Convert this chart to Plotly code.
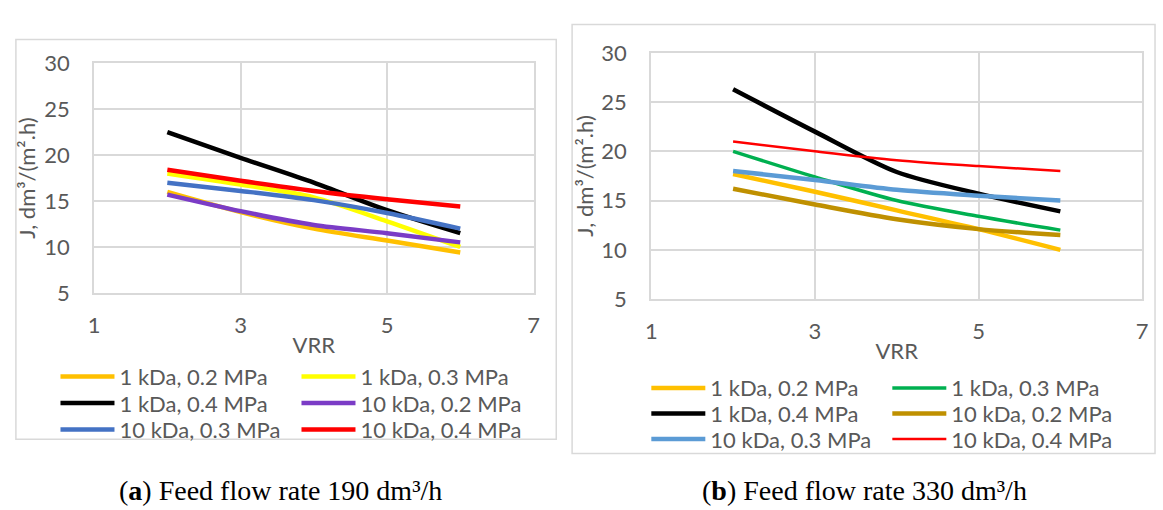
import plotly.graph_objects as go

W, H = 1163, 510

vrr = [2, 3, 4, 5, 6]

# Panel (a): feed flow rate 190 dm3/h
a_names = ["1 kDa, 0.2 MPa", "1 kDa, 0.3 MPa", "1 kDa, 0.4 MPa",
           "10 kDa, 0.2 MPa", "10 kDa, 0.3 MPa", "10 kDa, 0.4 MPa"]
a_1kda_02 = [16.0, 13.8, 12.0, 10.7, 9.4]
a_1kda_03 = [18.0, 16.8, 15.4, 12.8, 10.0]
a_1kda_04 = [22.5, 19.7, 17.0, 14.0, 11.5]
a_10kda_02 = [15.7, 13.9, 12.4, 11.5, 10.5]
a_10kda_03 = [17.0, 16.1, 15.1, 13.7, 12.0]
a_10kda_04 = [18.4, 17.2, 16.1, 15.2, 14.4]

# Panel (b): feed flow rate 330 dm3/h
b_names = a_names
b_1kda_02 = [17.7, 15.9, 14.0, 12.1, 10.0]
b_1kda_03 = [20.0, 17.4, 15.0, 13.4, 12.0]
b_1kda_04 = [26.3, 22.0, 17.9, 15.7, 13.9]
b_10kda_02 = [16.2, 14.6, 13.1, 12.1, 11.5]
b_10kda_03 = [18.0, 17.1, 16.1, 15.5, 15.0]
b_10kda_04 = [21.0, 20.0, 19.1, 18.5, 18.0]

x_ticks = [1, 3, 5, 7]
y_ticks = [5, 10, 15, 20, 25, 30]
x_title = "VRR"
y_title = "J, dm³/(m².h)"
caption_a = "(<b>a</b>) Feed flow rate 190 dm³/h"
caption_b = "(<b>b</b>) Feed flow rate 330 dm³/h"

a_series = [a_1kda_02, a_1kda_03, a_1kda_04, a_10kda_02, a_10kda_03, a_10kda_04]
b_series = [b_1kda_02, b_1kda_03, b_1kda_04, b_10kda_02, b_10kda_03, b_10kda_04]
a_colors = ["#FFC000", "#FFFF00", "#000000", "#7B3CC6", "#4472C4", "#FF0000"]
b_colors = ["#FFC000", "#00B050", "#000000", "#BF9000", "#5B9BD5", "#FF0000"]
a_widths = [4.5, 4.5, 4.5, 4.5, 4.5, 4.5]
b_widths = [4.5, 3.5, 4.5, 4.5, 4.5, 2.5]

FONT = "Lato"
GRAY = "#595959"
GRID = "#D9D9D9"

fig = go.Figure()

# legends: one per row, 2 items each
a_legends = ["legend", "legend", "legend2", "legend2", "legend3", "legend3"]
b_legends = ["legend4", "legend4", "legend5", "legend5", "legend6", "legend6"]

for name, ys, c, w, lg in zip(a_names, a_series, a_colors, a_widths, a_legends):
    fig.add_trace(go.Scatter(x=vrr, y=ys, name=name, mode="lines",
                             line=dict(color=c, width=w, shape="spline", smoothing=0.8),
                             xaxis="x", yaxis="y", legend=lg))
for name, ys, c, w, lg in zip(b_names, b_series, b_colors, b_widths, b_legends):
    fig.add_trace(go.Scatter(x=vrr, y=ys, name=name, mode="lines",
                             line=dict(color=c, width=w, shape="spline", smoothing=0.8),
                             xaxis="x2", yaxis="y2", legend=lg))


def xaxis(domain, anchor):
    return dict(domain=domain, anchor=anchor, range=[1, 7], tickvals=x_ticks,
                showgrid=True, gridcolor=GRID, gridwidth=1.5,
                showline=True, linecolor=GRID, linewidth=2, mirror=True,
                zeroline=False, ticks="", ticklabelstandoff=12,
                tickfont=dict(family=FONT, size=22, color=GRAY),
                title=dict(text=x_title, standoff=0, font=dict(family=FONT, size=22, color=GRAY)))


def yaxis(domain, anchor):
    return dict(domain=domain, anchor=anchor, range=[5, 30], tickvals=y_ticks,
                showgrid=True, gridcolor=GRID, gridwidth=1.5,
                showline=True, linecolor=GRID, linewidth=2, mirror=True,
                zeroline=False, ticks="", ticklabelstandoff=18,
                tickfont=dict(family=FONT, size=22, color=GRAY),
                title=dict(text=y_title, standoff=2, font=dict(family=FONT, size=22, color=GRAY)))


def px_x(p):
    return p / W


def px_y(p):
    return 1 - p / H


legend_common = dict(orientation="h", font=dict(family=FONT, size=22, color=GRAY),
                     bgcolor="rgba(0,0,0,0)", itemwidth=54, entrywidth=172,
                     xanchor="left", yanchor="middle", traceorder="normal",
                     itemclick=False, itemdoubleclick=False)

layout = dict(
    width=W, height=H, margin=dict(l=0, r=0, t=0, b=0),
    paper_bgcolor="white", plot_bgcolor="white",
    showlegend=True,
    xaxis=xaxis([px_x(89), px_x(533)], "y"),
    yaxis=yaxis([px_y(294.5), px_y(52)], "x"),
    xaxis2=xaxis([px_x(652), px_x(1148)], "y2"),
    yaxis2=yaxis([px_y(301), px_y(41)], "x2"),
    shapes=[
        dict(type="rect", xref="paper", yref="paper",
             x0=px_x(10), x1=px_x(556), y0=px_y(449), y1=px_y(27),
             line=dict(color=GRID, width=1.5), layer="below"),
        dict(type="rect", xref="paper", yref="paper",
             x0=px_x(572), x1=px_x(1161), y0=px_y(464), y1=px_y(11),
             line=dict(color=GRID, width=1.5), layer="below"),
    ],
    annotations=[
        dict(text=caption_a, xref="paper", yref="paper", x=px_x(277), y=px_y(503),
             xanchor="center", yanchor="middle", showarrow=False,
             font=dict(family="Liberation Serif", size=28, color="#000000")),
        dict(text=caption_b, xref="paper", yref="paper", x=px_x(867), y=px_y(503),
             xanchor="center", yanchor="middle", showarrow=False,
             font=dict(family="Liberation Serif", size=28, color="#000000")),
    ],
)

a_rows = [383, 411, 439]
b_rows = [395, 422, 449]
for i, r in enumerate(a_rows):
    key = "legend" if i == 0 else f"legend{i + 1}"
    layout[key] = dict(legend_common, x=px_x(50), y=px_y(r))
for i, r in enumerate(b_rows):
    key = f"legend{i + 4}"
    layout[key] = dict(legend_common, x=px_x(647), y=px_y(r))

fig.update_layout(**layout)
fig.write_html("out.html")
